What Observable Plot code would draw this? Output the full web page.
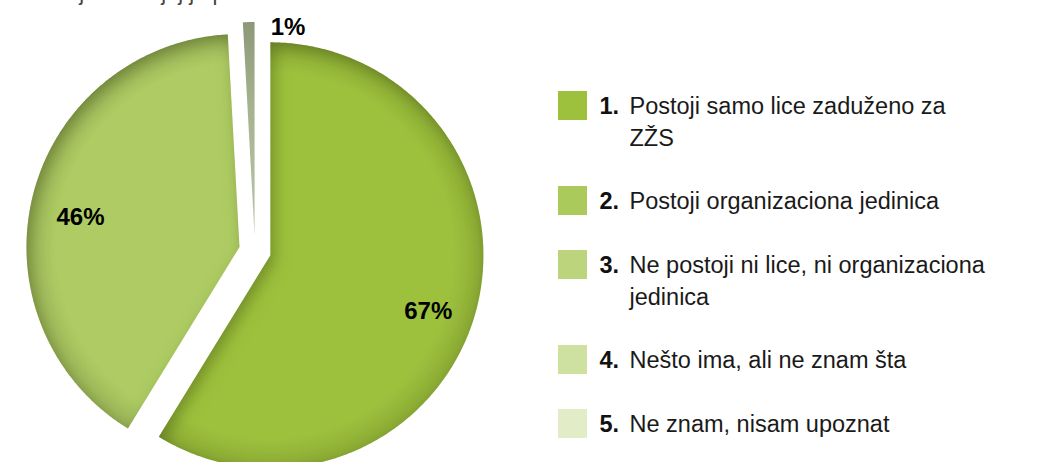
<!DOCTYPE html>
<html>
<head>
<meta charset="utf-8">
<script src="https://cdn.jsdelivr.net/npm/d3@7"></script>
<script src="https://cdn.jsdelivr.net/npm/@observablehq/plot@0.6"></script>
<style>
  html, body { margin: 0; padding: 0; background: #ffffff; }
  #chart { width: 1039px; height: 462px; overflow: hidden; }
</style>
</head>
<body>
<div id="chart"></div>
<script>
// ---------- data ----------
const titleText = "u Vašoj firmi kojoj je posao";
const pieValues = [67, 46, 1];
const pieLabels = ["67%", "46%", "1%"];
const pieColors = ["#9DC13D", "#AECC64", "#A8B592"];
const legendNumbers = ["1.", "2.", "3.", "4.", "5."];
const legendLabels = [
  "Postoji samo lice zaduženo za\nZŽS",
  "Postoji organizaciona jedinica",
  "Ne postoji ni lice, ni organizaciona\njedinica",
  "Nešto ima, ali ne znam šta",
  "Ne znam, nisam upoznat"
];
const legendColors = ["#9DC13D", "#ABCA5C", "#BCD57C", "#CFE1A1", "#E2ECC6"];

// ---------- layout ----------
const W = 1039, H = 462;
const cx = 254.5, cy = 250.5, R = 213, explode = 16;

const arcs = d3.pie().sort(null).value(d => d)(pieValues);
const slices = arcs.map((a, i) => {
  const mid = (a.startAngle + a.endAngle) / 2;
  const ox = cx + explode * Math.sin(mid);
  const oy = cy - explode * Math.cos(mid);
  const small = (a.endAngle - a.startAngle) < 0.2;
  const lr = small ? R : R * 0.77;
  return {
    i, mid, ox, oy, small,
    start: a.startAngle, end: a.endAngle,
    label: pieLabels[i],
    lx: ox + lr * Math.sin(mid),
    ly: oy - lr * Math.cos(mid)
  };
});
function slicePolygon(s) {
  const pts = [{x: s.ox, y: s.oy}];
  const n = Math.max(4, Math.ceil((s.end - s.start) / (Math.PI / 360)));
  for (let k = 0; k <= n; k++) {
    const t = s.start + (s.end - s.start) * k / n;
    pts.push({x: s.ox + R * Math.sin(t), y: s.oy - R * Math.cos(t)});
  }
  return pts;
}

// legend rows
const legendRows = [];
let yTop = 91;
legendLabels.forEach((lab, i) => {
  const lines = lab.split("\n").length;
  legendRows.push({num: legendNumbers[i], label: lab, color: legendColors[i], y: yTop});
  yTop += 64 + 31 * (lines - 1);
});
const sqX = 558, sq = 29;
const legendFont = 23.5;

const chart = Plot.plot({
  width: W, height: H,
  margin: 0,
  x: {domain: [0, W], range: [0, W], axis: null},
  y: {domain: [0, H], range: [0, H], axis: null},
  style: {fontFamily: "'Liberation Sans', Arial, Helvetica, sans-serif", background: "#ffffff"},
  marks: [
    Plot.text([titleText], {
      x: () => 12, y: () => -16, text: d => d,
      textAnchor: "start", lineAnchor: "top",
      fontSize: 22, fill: "#444444", letterSpacing: 1.3
    }),
    ...slices.map(s => Plot.line(slicePolygon(s), {
      x: "x", y: "y", curve: "linear-closed",
      fill: pieColors[s.i], stroke: "none",
      ariaDescription: `slice-${s.i}`
    })),
    Plot.text(slices.filter(s => !s.small), {
      x: "lx", y: "ly", text: "label", dy: 11,
      fontSize: 24, fontWeight: "bold", fill: "#000000",
      textAnchor: "middle", letterSpacing: 2
    }),
    Plot.text(slices.filter(s => s.small), {
      x: "lx", y: "ly", text: "label", dx: 22, dy: 5,
      fontSize: 24, fontWeight: "bold", fill: "#000000",
      textAnchor: "start", letterSpacing: 2
    }),
    Plot.rect(legendRows, {
      x1: () => sqX, x2: () => sqX + sq,
      y1: "y", y2: d => d.y + sq,
      fill: "color"
    }),
    Plot.text(legendRows, {
      x: () => 599, y: d => d.y - 0.5, text: "num",
      textAnchor: "start", lineAnchor: "top", lineHeight: 32 / legendFont,
      fontSize: legendFont, fontWeight: "bold", fill: "#111111"
    }),
    Plot.text(legendRows, {
      x: () => 629, y: d => d.y - 0.5, text: "label",
      textAnchor: "start", lineAnchor: "top", lineHeight: 32 / legendFont,
      fontSize: legendFont, fill: "#1a1a1a", letterSpacing: 2
    })
  ]
});

// gradients & inner shadow
const svg = d3.select(chart);
const defs = svg.insert("defs", ":first-child");
slices.forEach(s => {
  if (!s.small) {
    const base = d3.color(pieColors[s.i]);
    const g = defs.append("radialGradient")
      .attr("id", `sliceGrad${s.i}`)
      .attr("gradientUnits", "userSpaceOnUse")
      .attr("cx", s.ox).attr("cy", s.oy).attr("r", R);
    g.append("stop").attr("offset", "0%").attr("stop-color", base.formatHex());
    g.append("stop").attr("offset", "86%").attr("stop-color", base.formatHex());
    g.append("stop").attr("offset", "100%").attr("stop-color", base.darker(0.35).formatHex());
  } else {
    const g = defs.append("linearGradient")
      .attr("id", `sliceGrad${s.i}`)
      .attr("x1", 0).attr("y1", 0).attr("x2", 0).attr("y2", 1);
    g.append("stop").attr("offset", "0%").attr("stop-color", "#8C9878");
    g.append("stop").attr("offset", "40%").attr("stop-color", "#A6B38F");
    g.append("stop").attr("offset", "100%").attr("stop-color", "#B9C3A6");
  }
});
const f = defs.append("filter").attr("id", "innerShadow")
  .attr("x", "-15%").attr("y", "-15%").attr("width", "130%").attr("height", "130%");
f.append("feComponentTransfer").attr("in", "SourceAlpha").attr("result", "inv")
  .append("feFuncA").attr("type", "table").attr("tableValues", "1 0");
f.append("feOffset").attr("in", "inv").attr("dx", 4).attr("dy", 6).attr("result", "off");
f.append("feGaussianBlur").attr("in", "off").attr("stdDeviation", 8).attr("result", "blur");
f.append("feFlood").attr("flood-color", "#3a4a10").attr("flood-opacity", 0.6).attr("result", "col");
f.append("feComposite").attr("in", "col").attr("in2", "blur").attr("operator", "in").attr("result", "sh");
f.append("feComposite").attr("in", "sh").attr("in2", "SourceAlpha").attr("operator", "in").attr("result", "sh2");
const m = f.append("feMerge");
m.append("feMergeNode").attr("in", "SourceGraphic");
m.append("feMergeNode").attr("in", "sh2");

slices.forEach(s => {
  const grp = svg.selectAll(`g[aria-description="slice-${s.i}"]`);
  grp.attr("fill", `url(#sliceGrad${s.i})`);
  const paths = grp.selectAll("path").attr("fill", `url(#sliceGrad${s.i})`);
  if (!s.small) paths.attr("filter", "url(#innerShadow)");
});

document.getElementById("chart").appendChild(chart);
</script>
</body>
</html>
